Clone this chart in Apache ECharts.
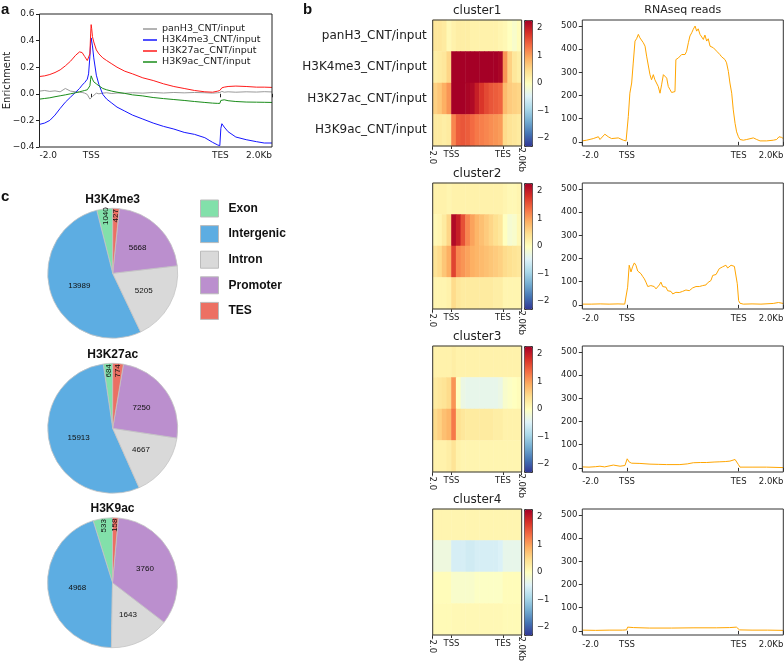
<!DOCTYPE html>
<html><head><meta charset="utf-8">
<script src="https://cdn.jsdelivr.net/npm/echarts@6/dist/echarts.min.js"></script>
<style>html,body{margin:0;padding:0;background:#fff}#c{width:784px;height:662px}</style>
</head><body><div id="c"></div>
<script>
// ---------- Panel a: profile ----------
const profileNames = ['panH3_CNT/input','H3K4me3_CNT/input','H3K27ac_CNT/input','H3K9ac_CNT/input'];
const profileX = [0,20,40,60,80,100,120,140,155,165,175,185,190,195,198,200,202,205,210,220,230,245,260,280,300,330,360,400,440,480,520,560,600,640,670,690,698,702,706,715,730,760,800,840,870,900];
const profPanH3 = [0.02,0.025,0.018,0.022,0.015,0.04,0.02,0.015,0.012,0.01,0.005,-0.005,-0.02,-0.04,-0.05,-0.045,-0.035,-0.02,-0.005,0.005,0.0,0.005,0.008,0.002,0.006,0.004,0.008,0.005,0.01,0.006,0.01,0.007,0.01,0.008,0.005,0.008,0.01,0.015,0.018,0.012,0.015,0.012,0.015,0.013,0.016,0.014];
const profK4 = [-0.23,-0.22,-0.2,-0.16,-0.11,-0.063,-0.025,0.012,0.04,0.065,0.085,0.11,0.15,0.28,0.38,0.42,0.41,0.36,0.27,0.14,0.07,-0.005,-0.04,-0.07,-0.1,-0.13,-0.16,-0.19,-0.22,-0.245,-0.265,-0.29,-0.305,-0.33,-0.365,-0.385,-0.39,-0.26,-0.225,-0.25,-0.285,-0.325,-0.345,-0.36,-0.37,-0.37];
const profK27 = [0.13,0.135,0.145,0.16,0.18,0.21,0.245,0.29,0.315,0.31,0.28,0.25,0.24,0.30,0.45,0.52,0.49,0.43,0.39,0.33,0.30,0.27,0.25,0.225,0.2,0.17,0.15,0.12,0.10,0.075,0.055,0.04,0.025,0.015,0.012,0.02,0.025,0.035,0.045,0.05,0.055,0.058,0.055,0.05,0.05,0.048];
const profK9 = [-0.04,-0.035,-0.03,-0.022,-0.015,-0.008,0.0,0.008,0.015,0.02,0.025,0.03,0.035,0.06,0.11,0.135,0.13,0.11,0.09,0.075,0.06,0.04,0.03,0.02,0.012,0.003,-0.008,-0.016,-0.028,-0.036,-0.043,-0.05,-0.058,-0.065,-0.07,-0.072,-0.072,-0.05,-0.04,-0.045,-0.052,-0.058,-0.062,-0.063,-0.064,-0.065];
const profileColors = ['#9a9a9a','#1515ff','#ff1a1a','#1a8c1a'];
const geneTickPos = [0,200,700,900];
const geneTickLabels = ['-2.0','TSS','TES','2.0Kb'];
const enrichTicks = [-0.4,-0.2,0.0,0.2,0.4,0.6];

// ---------- Panel b: heatmaps ----------
const clusterNames = ['cluster1','cluster2','cluster3','cluster4'];
const markNames = ['panH3_CNT/input','H3K4me3_CNT/input','H3K27ac_CNT/input','H3K9ac_CNT/input'];
const heatBins = ['-2.0','-1.5','-1.0','-0.5','TSS','10%','20%','30%','40%','50%','60%','70%','80%','90%','TES-','+0.5','+1.0','+1.5','+2.0'];
const heatTickPos = [0,4,15,19];
const c1_panH3 = [0.35,0.35,0.3,0.1,0.2,0.25,0.25,0.25,0.2,0.2,0.2,0.2,0.2,0.2,0.15,0.1,0.0,-0.1,0.05];
const c1_K4    = [0.25,0.3,0.35,0.55,2.3,2.3,2.3,2.3,2.3,2.3,2.3,2.3,2.3,2.3,2.25,1.1,0.6,0.35,0.25];
const c1_K27   = [0.6,0.7,0.9,1.1,2.3,2.3,2.3,2.25,2.2,2.0,1.8,1.65,1.55,1.5,1.45,0.8,0.65,0.6,0.55];
const c1_K9    = [0.3,0.3,0.25,0.3,1.2,1.5,1.55,1.5,1.4,1.3,1.25,1.2,1.15,1.1,1.05,0.5,0.4,0.35,0.3];
const c2_panH3 = [0.2,0.2,0.2,0.15,0.2,0.2,0.2,0.2,0.2,0.2,0.2,0.2,0.2,0.2,0.2,0.15,0.1,0.1,0.15];
const c2_K4    = [0.1,0.15,0.3,0.55,2.2,2.0,1.6,1.2,1.0,0.85,0.75,0.65,0.55,0.45,0.35,0.0,-0.15,-0.1,0.1];
const c2_K27   = [0.4,0.5,0.7,0.9,1.7,1.2,1.1,1.0,0.9,0.85,0.8,0.75,0.7,0.65,0.6,0.5,0.45,0.4,0.35];
const c2_K9    = [0.15,0.15,0.15,0.2,0.5,0.35,0.3,0.3,0.3,0.3,0.3,0.3,0.3,0.25,0.25,0.15,0.15,0.15,0.15];
const c3_panH3 = [0.2,0.2,0.2,0.2,0.25,0.2,0.2,0.2,0.2,0.2,0.2,0.2,0.2,0.2,0.2,0.2,0.2,0.2,0.2];
const c3_K4    = [0.3,0.35,0.4,0.5,1.1,0.0,-0.3,-0.35,-0.35,-0.35,-0.35,-0.35,-0.35,-0.35,-0.3,-0.1,-0.05,0.0,0.05];
const c3_K27   = [0.5,0.6,0.75,0.85,1.3,0.45,0.35,0.3,0.3,0.3,0.3,0.3,0.3,0.25,0.25,0.2,0.2,0.2,0.2];
const c3_K9    = [0.2,0.2,0.2,0.25,0.4,0.2,0.15,0.15,0.15,0.15,0.15,0.15,0.15,0.15,0.15,0.15,0.15,0.15,0.15];
const c4_panH3 = [0.15,0.15,0.15,0.15,0.15,0.15,0.15,0.15,0.15,0.15,0.15,0.15,0.15,0.15,0.15,0.15,0.15,0.15,0.15];
const c4_K4    = [-0.25,-0.25,-0.25,-0.25,-0.55,-0.55,-0.55,-0.6,-0.6,-0.55,-0.55,-0.55,-0.55,-0.55,-0.5,-0.35,-0.35,-0.35,-0.35];
const c4_K27   = [0.05,0.05,0.05,0.05,-0.1,-0.1,-0.1,-0.1,-0.1,-0.05,-0.05,-0.05,-0.05,-0.05,-0.05,0.05,0.05,0.05,0.05];
const c4_K9    = [0.08,0.08,0.08,0.08,0.1,0.1,0.1,0.1,0.1,0.1,0.1,0.1,0.1,0.1,0.1,0.08,0.08,0.08,0.08];
const heatRows = [[c1_panH3,c1_K4,c1_K27,c1_K9],[c2_panH3,c2_K4,c2_K27,c2_K9],[c3_panH3,c3_K4,c3_K27,c3_K9],[c4_panH3,c4_K4,c4_K27,c4_K9]];
const colorbarTicks = [-2,-1,0,1,2];
const RdYlBu_r = ['#313695','#4575b4','#74add1','#abd9e9','#e0f3f8','#ffffbf','#fee090','#fdae61','#f46d43','#d73027','#a50026'];

// ---------- Panel b: RNAseq reads ----------
const rna1X = [0,19,49,72,79,101,116,131,161,184,196,199,206,213,221,228,236,243,251,258,266,273,281,288,296,303,310,318,325,333,340,348,355,363,370,378,385,393,400,407,415,419,430,437,445,452,460,467,475,482,490,497,505,512,519,527,534,542,549,557,564,572,579,587,594,602,609,616,624,631,639,646,654,661,669,676,684,691,699,706,721,736,766,781,796,825,855,870,881,893,900];
const rna1Y = [4,7,14,22,10,33,22,14,17,7,4,6,109,210,254,340,435,445,464,449,454,428,413,370,362,290,268,290,268,275,239,210,246,290,283,275,239,225,213,217,217,355,362,355,377,384,377,391,428,457,471,486,500,478,488,464,457,442,461,435,445,413,420,406,406,391,384,377,367,362,355,341,304,254,210,138,80,43,22,10,7,10,17,10,4,4,7,10,22,19,14];
const rna2X = [0,40,80,120,160,190,196,203,210,218,225,233,240,248,255,263,270,278,285,293,300,307,315,322,330,337,345,352,360,367,375,382,390,397,405,412,419,427,434,442,449,457,464,472,479,487,494,502,509,516,524,531,539,546,554,561,569,576,584,591,599,606,613,621,628,636,643,651,658,666,673,681,688,694,700,706,721,760,800,855,878,900];
const rna2Y = [3,3,4,3,4,3,6,76,171,142,164,181,171,146,142,134,123,112,98,79,73,83,76,79,69,73,86,98,79,73,76,61,54,58,47,50,54,47,53,50,58,64,64,69,61,69,73,79,79,83,79,83,83,91,86,95,98,105,127,134,131,137,156,149,164,156,171,159,164,171,175,166,171,91,18,7,3,4,3,6,10,6];
const rna3X = [0,30,60,79,100,139,169,191,198,201,210,221,258,303,340,378,437,470,497,530,557,590,616,640,661,684,691,699,706,760,825,900];
const rna3Y = [4,3,5,7,4,12,7,10,6,39,25,20,19,16,15,14,14,17,22,23,23,25,26,27,29,36,41,14,3,3,3,1];
const rna4X = [0,60,120,180,198,203,230,300,400,500,600,660,690,698,704,760,830,900];
const rna4Y = [3,2,3,3,4,16,14,12,12,13,13,14,16,15,4,3,3,2];
const rnaX = [rna1X,rna2X,rna3X,rna4X];
const rnaY = [rna1Y,rna2Y,rna3Y,rna4Y];
const rnaTicks = [0,100,200,300,400,500];

// ---------- Panel c: pies ----------
const pieCats = ['Exon','Intergenic','Intron','Promoter','TES'];
const pieTitles = ['H3K4me3','H3K27ac','H3K9ac'];
const pieK4 = [1040,13989,5205,5668,427];
const pieK27 = [684,15913,4667,7250,774];
const pieK9 = [533,4968,1643,3760,158];
const pieValues = [pieK4,pieK27,pieK9];

// ---------- layout ----------
const FONT = 'DejaVu Sans';
const TXT = '#222';
const clTop = [20,183,346,509];
const clH = 126;
const heatLeft = 432.7, heatW = 89;
const cbLeft = 524, cbW = 8;
const rnaLeft = 582.3, rnaW = 201;
const pieCenters = [[112.7,273.3],[112.7,428.3],[112.5,582.7]];
const pieR = 65;
const pieColorSets = [
  ['#82E0AA','#5DADE2','#D9D9D9','#BB8FCE','#EC7063'],
  ['#48B89A','#5DADE2','#D9D9D9','#BB8FCE','#EC7063'],
  ['#48B89A','#5DADE2','#D9D9D9','#BB8FCE','#EC7063']
];

const grids = [], xAxes = [], yAxes = [], series = [], visualMaps = [], titles = [];
const minus = s => String(s).replace('-', '\u2212');

// panel a
grids.push({left:39.5, top:14, width:232.5, height:133, show:true, borderColor:'#222', borderWidth:1, backgroundColor:'transparent', z:5, outerBoundsMode:'none'});
xAxes.push({type:'value', gridIndex:0, position:'bottom', min:0, max:900, axisLine:{show:false}, splitLine:{show:false},
  axisTick:{show:true, customValues:geneTickPos, length:3.5, lineStyle:{color:'#222'}},
  axisLabel:{customValues:geneTickPos, formatter:v=>geneTickLabels[geneTickPos.indexOf(v)], fontSize:9, color:TXT, margin:4, alignMinLabel:'left', alignMaxLabel:'right'}});
yAxes.push({type:'value', gridIndex:0, position:'left', min:-0.4, max:0.6, name:'Enrichment', nameLocation:'middle', nameGap:27, nameMoveOverlap:false,
  nameTextStyle:{fontSize:10, color:TXT, fontFamily:FONT},
  axisLine:{show:false}, splitLine:{show:false},
  axisTick:{show:true, customValues:enrichTicks, length:3.5, lineStyle:{color:'#222'}},
  axisLabel:{customValues:enrichTicks, formatter:v=>minus((Math.round(v*10)/10).toFixed(1)), fontSize:9, color:TXT, margin:5}});
[profPanH3,profK4,profK27,profK9].forEach((arr,i)=>{
  series.push({type:'line', name:profileNames[i], xAxisIndex:0, yAxisIndex:0, data:profileX.map((x,j)=>[x,arr[j]]),
    symbol:'none', showSymbol:false, color:profileColors[i], lineStyle:{color:profileColors[i], width:1}, emphasis:{disabled:true}, silent:true});
});

// panel b
for (let k=0;k<4;k++){
  const top = clTop[k];
  // heatmap
  const hg = grids.length;
  grids.push({left:heatLeft, top:top, width:heatW, height:clH, show:true, borderColor:'#333', borderWidth:1, backgroundColor:'transparent', z:5, outerBoundsMode:'none'});
  const hx = xAxes.length;
  xAxes.push({type:'category', gridIndex:hg, position:'bottom', data:heatBins, show:false});
  xAxes.push({type:'value', gridIndex:hg, position:'bottom', min:0, max:heatBins.length, axisLine:{show:false}, splitLine:{show:false},
    axisTick:{show:true, customValues:heatTickPos, length:3, lineStyle:{color:'#333'}},
    axisLabel:{customValues:[heatTickPos[1],heatTickPos[2]], formatter:v=>geneTickLabels[heatTickPos.indexOf(v)], fontSize:8.5, color:TXT, margin:4}});
  xAxes.push({type:'value', gridIndex:hg, position:'bottom', offset:0, min:0, max:heatBins.length, axisLine:{show:false}, splitLine:{show:false}, axisTick:{show:false},
    axisLabel:{customValues:[heatTickPos[0],heatTickPos[3]], formatter:v=>geneTickLabels[heatTickPos.indexOf(v)], rotate:-90, fontSize:8.5, color:TXT, margin:1.5}});
  const hy = yAxes.length;
  yAxes.push({type:'category', gridIndex:hg, position:'left', data:markNames, inverse:true, axisLine:{show:false}, axisTick:{show:false}, splitLine:{show:false},
    axisLabel:{show:k===0, fontSize:12, color:TXT, margin:6, fontFamily:FONT}});
  const hs = series.length;
  const hdata = [];
  heatRows[k].forEach((row,r)=>row.forEach((v,c)=>hdata.push([c,r,v])));
  series.push({type:'heatmap', xAxisIndex:hx, yAxisIndex:hy, data:hdata, itemStyle:{borderWidth:0}, emphasis:{disabled:true}, silent:true, progressive:0});
  visualMaps.push({type:'continuous', min:-2.3, max:2.3, seriesIndex:hs, calculable:false, orient:'vertical',
    left:cbLeft, top:top, itemWidth:cbW, itemHeight:clH, padding:0, borderColor:'#333', borderWidth:1, text:null,
    inRange:{color:RdYlBu_r}, hoverLink:false, realtime:false});
  // colorbar axis
  const cg = grids.length;
  grids.push({left:cbLeft, top:top, width:cbW, height:clH, show:false, outerBoundsMode:'none'});
  xAxes.push({type:'value', gridIndex:cg, position:'bottom', min:0, max:1, show:false});
  yAxes.push({type:'value', gridIndex:cg, position:'right', min:-2.3, max:2.3, axisLine:{show:false}, splitLine:{show:false},
    axisTick:{show:true, customValues:colorbarTicks, length:3, lineStyle:{color:'#333'}},
    axisLabel:{customValues:colorbarTicks, formatter:v=>minus(v), fontSize:8.5, color:TXT, margin:5}});
  // RNA
  const rg = grids.length;
  grids.push({left:rnaLeft, top:top, width:rnaW, height:clH, show:true, borderColor:'#333', borderWidth:1, backgroundColor:'transparent', z:5, outerBoundsMode:'none'});
  const rx = xAxes.length;
  xAxes.push({type:'value', gridIndex:rg, position:'bottom', min:0, max:900, axisLine:{show:false}, splitLine:{show:false},
    axisTick:{show:true, customValues:geneTickPos, length:3.5, lineStyle:{color:'#333'}},
    axisLabel:{customValues:geneTickPos, formatter:v=>geneTickLabels[geneTickPos.indexOf(v)], fontSize:8.5, color:TXT, margin:5, alignMinLabel:'left', alignMaxLabel:'right'}});
  const ry = yAxes.length;
  yAxes.push({type:'value', gridIndex:rg, position:'left', min:-18, max:526, axisLine:{show:false}, splitLine:{show:false},
    axisTick:{show:true, customValues:rnaTicks, length:3.5, lineStyle:{color:'#333'}},
    axisLabel:{customValues:rnaTicks, fontSize:8.5, color:TXT, margin:5}});
  series.push({type:'line', xAxisIndex:rx, yAxisIndex:ry, data:rnaX[k].map((x,j)=>[x,rnaY[k][j]]), symbol:'none', showSymbol:false,
    color:'#ffa500', lineStyle:{color:'#ffa500', width:1}, emphasis:{disabled:true}, silent:true});
  titles.push({text:clusterNames[k], left:heatLeft+heatW/2, top:top-15, textAlign:'center', padding:0,
    textStyle:{fontSize:12, fontWeight:'normal', color:TXT, fontFamily:FONT}});
}
titles.push({text:'RNAseq reads', left:rnaLeft+rnaW/2, top:5, textAlign:'center', padding:0, textStyle:{fontSize:11, fontWeight:'normal', color:TXT, fontFamily:FONT}});

// panel c pies
pieValues.forEach((vals,k)=>{
  series.push({type:'pie', center:pieCenters[k], radius:[0,pieR], startAngle:90, clockwise:false, color:pieColorSets[k],
    data:pieCats.map((c,i)=>({name:c, value:vals[i]})),
    itemStyle:{borderColor:'#c4c4c4', borderWidth:0.8},
    label:{show:true, position:'inside', fontSize:8, color:'#111', fontFamily:'Liberation Sans', formatter:p=>p.percent>5?String(p.value):''},
    labelLine:{show:false}, emphasis:{disabled:true}, silent:true, animation:false});
  titles.push({text:pieTitles[k], left:pieCenters[k][0], top:pieCenters[k][1]-pieR-15, textAlign:'center', padding:0,
    textStyle:{fontSize:12, fontWeight:'bold', color:'#111', fontFamily:'Liberation Sans'}});
});
pieValues.forEach((vals,k)=>{
  series.push({type:'pie', center:pieCenters[k], radius:[pieR*0.68,pieR], startAngle:90, clockwise:false,
    data:pieCats.map((c,i)=>({name:c, value:vals[i]})),
    itemStyle:{color:'rgba(0,0,0,0)', borderWidth:0},
    label:{show:true, position:'inside', rotate:90, fontSize:8, color:'#111', fontFamily:'Liberation Sans', formatter:p=>p.percent<=5?String(p.value):''},
    labelLine:{show:false}, emphasis:{disabled:true}, silent:true, animation:false, legendHoverLink:false});
});

// panel letters
titles.push({text:'a', left:1, top:2, padding:0, textStyle:{fontSize:15, fontWeight:'bold', color:'#111', fontFamily:'Liberation Sans'}});
titles.push({text:'b', left:303, top:2, padding:0, textStyle:{fontSize:15, fontWeight:'bold', color:'#111', fontFamily:'Liberation Sans'}});
titles.push({text:'c', left:1, top:189, padding:0, textStyle:{fontSize:15, fontWeight:'bold', color:'#111', fontFamily:'Liberation Sans'}});

const option = {
  animation:false,
  backgroundColor:'#ffffff',
  textStyle:{fontFamily:FONT},
  title:titles,
  grid:grids, xAxis:xAxes, yAxis:yAxes, visualMap:visualMaps, series:series,
  legend:[
    {data:profileNames, left:143, top:23.5, orient:'vertical', icon:'rect', itemWidth:14, itemHeight:1.5, itemGap:0, padding:0, selectedMode:false,
     textStyle:{fontSize:9.5, lineHeight:11, color:TXT, fontFamily:FONT}},
    {data:pieCats, left:200, top:199.5, orient:'vertical', icon:'rect', itemWidth:18, itemHeight:17, itemGap:7.6, padding:0, selectedMode:false,
     itemStyle:{borderColor:'#bbbbbb', borderWidth:1},
     textStyle:{fontSize:12, fontWeight:'bold', color:'#111', fontFamily:'Liberation Sans', padding:[0,0,0,5]}}
  ]
};
const chart = echarts.init(document.getElementById('c'), null, {renderer:'canvas'});
chart.setOption(option);
</script></body></html>
